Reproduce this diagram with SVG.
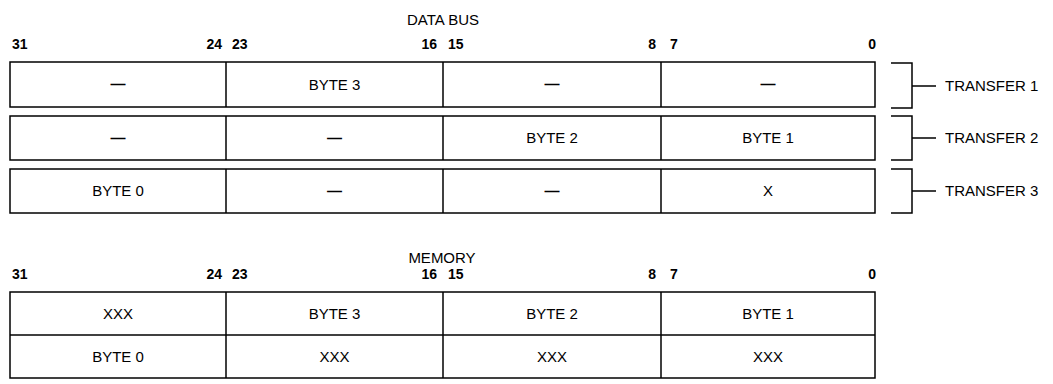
<svg xmlns="http://www.w3.org/2000/svg" width="1053" height="384" viewBox="0 0 1053 384">
<style>
.bg{fill:#fff}
.box{fill:#fff;stroke:#000;stroke-width:1.5}
.div{stroke:#000;stroke-width:1.5}
.t{font-family:"Liberation Sans",Arial,sans-serif;font-size:15px;fill:#000;text-anchor:middle}
.d{font-weight:bold}
.n{font-family:"Liberation Sans",Arial,sans-serif;font-size:14px;font-weight:bold;fill:#000}
.r{text-anchor:end}
.h{font-family:"Liberation Sans",Arial,sans-serif;font-size:15px;fill:#000;text-anchor:middle}
.lbl{font-family:"Liberation Sans",Arial,sans-serif;font-size:15px;fill:#000}
.br{fill:none;stroke:#000;stroke-width:1.5}
</style>
<rect class="bg" x="0" y="0" width="1053" height="384"/>

<g id="databus-header">
<text class="h" x="443" y="25">DATA BUS</text>
<text class="n" x="12" y="49">31</text>
<text class="n r" x="222" y="49">24</text>
<text class="n" x="232" y="49">23</text>
<text class="n r" x="437" y="49">16</text>
<text class="n" x="448" y="49">15</text>
<text class="n r" x="656" y="49">8</text>
<text class="n" x="670" y="49">7</text>
<text class="n r" x="876" y="49">0</text>
</g>

<g id="transfer1-row">
<rect class="box" x="10" y="62" width="865" height="45"/>
<line class="div" x1="226" y1="62" x2="226" y2="107"/>
<line class="div" x1="443" y1="62" x2="443" y2="107"/>
<line class="div" x1="661" y1="62" x2="661" y2="107"/>
<text class="t d" x="118" y="89">—</text>
<text class="t" x="334.5" y="90">BYTE 3</text>
<text class="t d" x="552" y="89">—</text>
<text class="t d" x="768" y="89">—</text>
</g>

<g id="transfer2-row">
<rect class="box" x="10" y="116" width="865" height="44"/>
<line class="div" x1="226" y1="116" x2="226" y2="160"/>
<line class="div" x1="443" y1="116" x2="443" y2="160"/>
<line class="div" x1="661" y1="116" x2="661" y2="160"/>
<text class="t d" x="118" y="143">—</text>
<text class="t d" x="334.5" y="143">—</text>
<text class="t" x="552" y="143">BYTE 2</text>
<text class="t" x="768" y="143">BYTE 1</text>
</g>

<g id="transfer3-row">
<rect class="box" x="10" y="169" width="865" height="44"/>
<line class="div" x1="226" y1="169" x2="226" y2="213"/>
<line class="div" x1="443" y1="169" x2="443" y2="213"/>
<line class="div" x1="661" y1="169" x2="661" y2="213"/>
<text class="t" x="118" y="196">BYTE 0</text>
<text class="t d" x="334.5" y="196">—</text>
<text class="t d" x="552" y="196">—</text>
<text class="t" x="768" y="196">X</text>
</g>

<g id="connectors">
<path class="br" d="M891,63 H912 V108 H891 M912,86 H936"/>
<path class="br" d="M891,116 H912 V160 H891 M912,138 H936"/>
<path class="br" d="M891,169 H912 V213 H891 M912,191 H936"/>
</g>

<g id="transfer-labels">
<text class="lbl" x="945" y="91">TRANSFER 1</text>
<text class="lbl" x="945" y="143">TRANSFER 2</text>
<text class="lbl" x="945" y="196">TRANSFER 3</text>
</g>

<g id="memory-header">
<text class="h" x="442" y="263">MEMORY</text>
<text class="n" x="12" y="279">31</text>
<text class="n r" x="222" y="279">24</text>
<text class="n" x="232" y="279">23</text>
<text class="n r" x="437" y="279">16</text>
<text class="n" x="448" y="279">15</text>
<text class="n r" x="656" y="279">8</text>
<text class="n" x="670" y="279">7</text>
<text class="n r" x="876" y="279">0</text>
</g>

<g id="memory-table">
<rect class="box" x="10" y="292" width="865" height="86"/>
<line class="div" x1="10" y1="335" x2="875" y2="335"/>
<line class="div" x1="226" y1="292" x2="226" y2="378"/>
<line class="div" x1="443" y1="292" x2="443" y2="378"/>
<line class="div" x1="661" y1="292" x2="661" y2="378"/>
<text class="t" x="118" y="319">XXX</text>
<text class="t" x="334.5" y="319">BYTE 3</text>
<text class="t" x="552" y="319">BYTE 2</text>
<text class="t" x="768" y="319">BYTE 1</text>
<text class="t" x="118" y="362">BYTE 0</text>
<text class="t" x="334.5" y="362">XXX</text>
<text class="t" x="552" y="362">XXX</text>
<text class="t" x="768" y="362">XXX</text>
</g>
</svg>
